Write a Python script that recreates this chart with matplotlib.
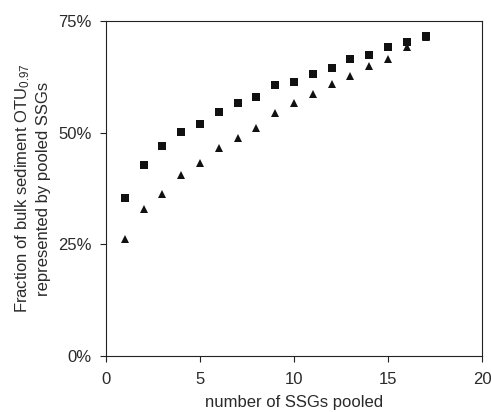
import matplotlib
matplotlib.use("Agg")
import matplotlib.pyplot as plt
from matplotlib.ticker import FuncFormatter

plt.rcParams['font.family'] = ['Liberation Sans', 'DejaVu Sans']
plt.rcParams['mathtext.fontset'] = 'custom'
plt.rcParams['mathtext.rm'] = 'Liberation Sans'
plt.rcParams['mathtext.it'] = 'Liberation Sans'

n_pooled = list(range(1, 18))
squares = [0.354, 0.428, 0.470, 0.502, 0.520, 0.546, 0.567, 0.580, 0.607,
           0.614, 0.631, 0.645, 0.665, 0.674, 0.692, 0.703, 0.716]
triangles = [0.263, 0.329, 0.362, 0.406, 0.432, 0.466, 0.487, 0.511, 0.543,
             0.567, 0.587, 0.610, 0.626, 0.649, 0.665, 0.691, 0.714]
x_ticks = [0, 5, 10, 15, 20]
y_ticks = [0, 0.25, 0.50, 0.75]

W, H = 491, 412
fig = plt.figure(figsize=(W / 100, H / 100), dpi=100)
ax = fig.add_axes([106 / W, (H - 356) / H, 376 / W, 335 / H])

txt = '#2a2a2a'
ax.plot(n_pooled, triangles, linestyle='none', marker='^', markersize=6.3,
        color='#111111', markeredgewidth=0)
ax.plot(n_pooled, squares, linestyle='none', marker='s', markersize=5.4,
        color='#111111', markeredgewidth=0)

ax.set_xlim(0, 20)
ax.set_ylim(0, 0.75)
ax.set_xticks(x_ticks)
ax.set_yticks(y_ticks)
ax.yaxis.set_major_formatter(FuncFormatter(lambda v, p: f"{v*100:.0f}%"))
ax.tick_params(direction='out', length=4.5, width=0.8, color='#222222',
               labelsize=12, labelcolor=txt)
ax.tick_params(axis='x', pad=7)
ax.tick_params(axis='y', pad=6)
for s in ax.spines.values():
    s.set_linewidth(0.8)
    s.set_color('#222222')

ax.set_xlabel('number of SSGs pooled', fontsize=12, color=txt, labelpad=6)
ax.set_ylabel('Fraction of bulk sediment OTU$_{0.97}$\nrepresented by pooled SSGs',
              fontsize=12, color=txt, labelpad=5, linespacing=1.3)

fig.savefig('out.png', dpi=100)
